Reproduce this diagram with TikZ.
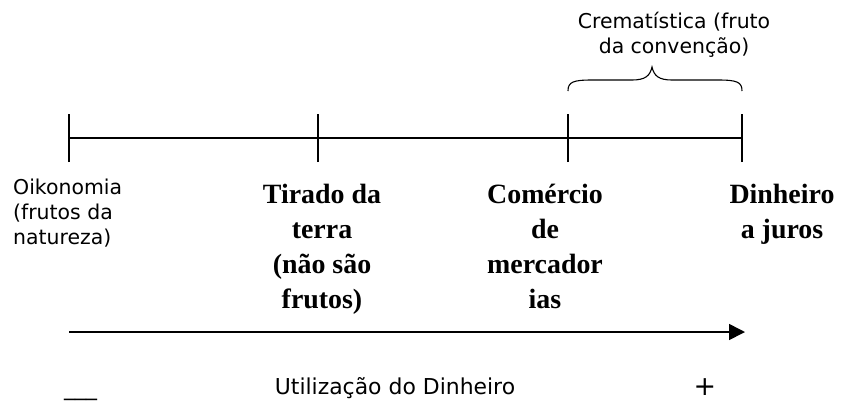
\documentclass[tikz,border=0pt]{standalone}
\usepackage{fontspec}
\setmainfont{DejaVu Sans}
\newfontfamily\serifb{Liberation Serif}
\usetikzlibrary{arrows.meta}
\begin{document}
\begin{tikzpicture}[x=1bp,y=-1bp,
  sanstxt/.style={font=\fontsize{20.5}{25}\selectfont, inner sep=0pt, align=center},
  boldtxt/.style={font=\serifb\bfseries\fontsize{28}{35}\selectfont, inner sep=0pt, align=center},
  axisline/.style={line width=1.5bp},
  tickline/.style={line width=1.1bp},
  bracestyle/.style={line width=1.1bp},
  flowarrow/.style={line width=1.6bp, -{Triangle[length=16bp,width=16bp]}}]
\useasboundingbox (0,0) rectangle (842,404);
% timeline points
\coordinate (t1) at (69,138);
\coordinate (t2) at (318,138);
\coordinate (t3) at (568,138);
\coordinate (t4) at (742,138);
\draw[axisline] (t1) -- (t4);
\foreach \p in {t1,t2,t3,t4}{
  \draw[tickline] ([yshift=-24bp]\p) -- ([yshift=24bp]\p);
}
% brace
\coordinate (bl) at (568,91);
\coordinate (br) at (742,91);
\coordinate (btip) at (652,67);
\draw[bracestyle] (bl) .. controls (568,82) and (573,80) .. (592,80) -- (632,80)
  .. controls (645,80) and (650,76) .. (btip)
  .. controls (654,76) and (659,80) .. (672,80) -- (718,80)
  .. controls (737,80) and (742,82) .. (br);
% texts (base anchor = last line baseline)
\node[sanstxt, anchor=base] (crem) at (674,53) {Crematística (fruto\\da convenção)};
\node[sanstxt, anchor=base west, align=left] (oik) at (13,244) {Oikonomia\\(frutos da\\natureza)};
\node[boldtxt, anchor=base] (tir) at (322,308) {Tirado da\\terra\\(não são\\frutos)};
\node[boldtxt, anchor=base] (com) at (545,308) {Comércio\\de\\mercador\\ias};
\node[boldtxt, anchor=base] (din) at (782,238) {Dinheiro\\a juros};
% arrow
\coordinate (a1) at (69,332);
\coordinate (a2) at (745,332);
\draw[flowarrow] (a1) -- (a2);
\node[sanstxt, font=\fontsize{22}{26}\selectfont, anchor=base] (uti) at (395,394) {Utilização do Dinheiro};
\node[sanstxt, font=\fontsize{22}{26}\selectfont, anchor=base west] (minus) at (64,395) {\_\_\_};
\node[font=\fontsize{27}{30}\selectfont, inner sep=0pt] (plus) at (705,387) {+};
\end{tikzpicture}
\end{document}
